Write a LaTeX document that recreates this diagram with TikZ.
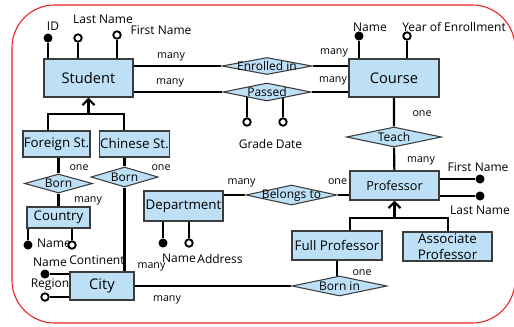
\documentclass[tikz,border=0pt]{standalone}
\usepackage{fontspec}
\setmainfont{Open Sans}
\usetikzlibrary{shapes.geometric,arrows.meta}
\pgfdeclarelayer{bg}
\pgfsetlayers{bg,main}
\definecolor{boxfill}{RGB}{189,224,247}
\definecolor{boxline}{RGB}{60,60,60}
\definecolor{framered}{RGB}{237,28,36}
\begin{document}
\begin{tikzpicture}[x=0.75pt,y=-0.75pt,
  box/.style 2 args={draw=boxline,fill=boxfill,line width=0.8pt,minimum width=#1*0.75pt,minimum height=#2*0.75pt,inner sep=0.5pt,font=\fontsize{10}{11.5}\selectfont},
  big/.style={font=\fontsize{11}{13}\selectfont},
  rel/.style 2 args={diamond,draw=boxline,fill=boxfill,line width=0.8pt,minimum width=#1*0.75pt,minimum height=#2*0.75pt,inner sep=0pt},
  rl/.style={label={[font=\fontsize{9}{10}\selectfont,inner sep=0pt]center:#1}},
  link/.style={line width=1.6pt},
  keyattr/.style={circle,fill=black,inner sep=0pt,minimum size=6.8pt},
  optattr/.style={circle,draw=black,fill=white,line width=1.4pt,inner sep=0pt,minimum size=5.6pt},
  card/.style={font=\fontsize{8}{9}\selectfont,inner sep=0pt},
  atl/.style={font=\fontsize{9}{10}\selectfont,inner sep=0pt},
  isa/.style={line width=1.6pt,-{Straight Barb[length=4.5pt,width=9pt]}}
]
\useasboundingbox (0,0) rectangle (514,326);
\draw[framered,line width=0.8pt,rounded corners=32pt] (12,5) rectangle (515,323);

% entities
\node[box={89}{38},big] (student) at (88.5,78) {Student};
\node[box={90}{38},big] (course) at (394,78) {Course};
\node[box={67}{26}] (foreign) at (56.5,144) {Foreign St.};
\node[box={67}{26}] (chinese) at (134.5,144) {Chinese St.};
\node[box={63}{21}] (country) at (58.5,217.5) {Country};
\node[box={64}{28},big] (city) at (102,286) {City};
\node[box={79}{30}] (dept) at (183.5,206) {Department};
\node[box={89}{29},font=\fontsize{9.5}{11}\selectfont] (prof) at (394.5,185.5) {Professor};
\node[box={90}{29}] (full) at (337,245.5) {Full Professor};
\node[box={89}{29},align=center,font=\fontsize{10}{12}\selectfont] (assoc) at (447.5,246.5) {Associate\\Professor};

% relationships
\node[rel={90}{17},rl={Enrolled in}] (enr) at (267,66) {};
\node[rel={88}{18},rl={Passed}] (pass) at (267,92) {};
\node[rel={95}{20},rl={Teach}] (teach) at (394,137) {};
\node[rel={91}{20},rl={Belongs to}] (belongs) at (291.5,195) {};
\node[rel={95}{20},rl={Born in}] (bornin) at (339.5,286) {};
\node[rel={68}{19},rl={Born}] (bornA) at (58.5,183.5) {};
\node[rel={67}{20},rl={Born}] (bornB) at (124.5,177) {};

% attributes
\node[keyattr] (sid) at (48,38) {};
\node[optattr] (slast) at (78,38) {};
\node[optattr] (sfirst) at (117,35) {};
\node[keyattr] (cname) at (359,36) {};
\node[optattr] (cyear) at (407,36) {};
\node[optattr] (grade) at (247,122) {};
\node[optattr] (pdate) at (283,122) {};
\node[keyattr] (pfirst) at (480,179) {};
\node[keyattr] (plast) at (480,196) {};
\node[keyattr] (coname) at (28,245) {};
\node[optattr] (cocont) at (72,245) {};
\node[keyattr] (dname) at (163,243) {};
\node[optattr] (daddr) at (189,243) {};
\node[keyattr] (ciname) at (45,274) {};
\node[optattr] (ciregion) at (45,297) {};

\coordinate (isaS) at (88.5,114);
\coordinate (isaSL) at (48,114);
\coordinate (isaSR) at (124,114);
\coordinate (isaP) at (394.5,218);
\coordinate (isaPL) at (350,218);
\coordinate (isaPR) at (448,218);

\begin{pgfonlayer}{bg}
\draw[link] (enr.west) -- (enr.west -| student.east);
\draw[link] (enr.east) -- (enr.east -| course.west);
\draw[link] (pass.west) -- (pass.west -| student.east);
\draw[link] (pass.east) -- (pass.east -| course.west);
\draw[link] (course) -- (teach) -- (prof);
\draw[link] (belongs.west) -- (belongs.west -| dept.east);
\draw[link] (belongs.east) -- (belongs.east -| prof.west);
\draw[link] (bornin) -- (city);
\draw[link] (full.center |- bornin) -- (full.center);
\draw[link] (bornA |- foreign) -- (bornA) -- (bornA |- country);
\draw[link] (bornB |- chinese) -- (bornB) -- (bornB |- city);
\draw[link] (sid) -- (sid |- student);
\draw[link] (slast) -- (slast |- student);
\draw[link] (sfirst) -- (sfirst |- student);
\draw[link] (cname) -- (cname |- course);
\draw[link] (cyear) -- (cyear |- course);
\draw[link] (grade) -- (grade |- pass);
\draw[link] (pdate) -- (pdate |- pass);
\draw[link] (pfirst) -- (pfirst -| prof);
\draw[link] (plast) -- (plast -| prof);
\draw[link] (coname) -- (coname |- country);
\draw[link] (cocont) -- (cocont |- country);
\draw[link] (dname) -- (dname |- dept);
\draw[link] (daddr) -- (daddr |- dept);
\draw[link] (ciname) -- (ciname -| city);
\draw[link] (ciregion) -- (ciregion -| city);
\draw[link] (foreign.north -| isaSL) -- (isaSL) -- (isaSR) -- (chinese.north -| isaSR);
\draw[link] (full.north -| isaPL) -- (isaPL) -- (isaPR) -- (assoc.north -| isaPR);
\end{pgfonlayer}
\draw[isa] (isaS) -- (student.south);
\draw[isa] (isaP) -- (prof.south);

% attribute labels
\node[atl] (lid) at (53,26) {ID};
\node[atl] (llast) at (103,19) {Last Name};
\node[atl] (lfirst) at (161,30) {First Name};
\node[atl] (lcname) at (370,27) {Name};
\node[atl] (lcyear) at (454,27) {Year of Enrollment};
\node[atl] (lgrade) at (256,144) {Grade};
\node[atl] (ldate) at (289,144) {Date};
\node[atl] (lpfirst) at (478,167) {First Name};
\node[atl] (lplast) at (480,210) {Last Name};
\node[atl] (lconame) at (54,243) {Name};
\node[atl] (lcocont) at (97,260) {Continent};
\node[atl] (ldname) at (179,258) {Name};
\node[atl] (ldaddr) at (220,259) {Address};
\node[atl] (lciname) at (50,262) {Name};
\node[atl] (lciregion) at (50,285) {Region};

% cardinalities
\node[card] at (171,57) {many};
\node[card] at (170,83) {many};
\node[card] at (334,53) {many};
\node[card] at (333,81) {many};
\node[card] at (422,114) {one};
\node[card] at (421,161) {many};
\node[card] at (241.5,183) {many};
\node[card] at (337.5,182) {one};
\node[card] at (362,273) {one};
\node[card] at (167,300) {many};
\node[card] at (151.5,267) {many};
\node[card] at (79,168) {one};
\node[card] at (88,201) {many};
\node[card] at (161,168) {one};
\end{tikzpicture}
\end{document}
